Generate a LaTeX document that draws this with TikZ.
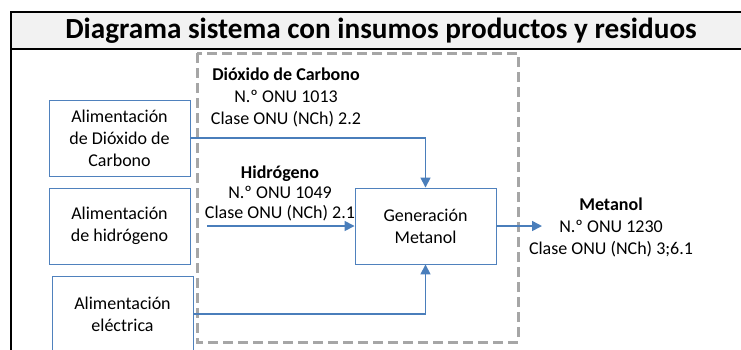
\documentclass[tikz,border=0pt]{standalone}
\usepackage{fontspec}
\setmainfont{Carlito}
\usetikzlibrary{arrows.meta,positioning}
\definecolor{boxblue}{RGB}{79,129,189}
\definecolor{flowblue}{RGB}{74,126,187}
\definecolor{dashgray}{RGB}{166,166,166}
\definecolor{titlegray}{RGB}{242,242,242}

\begin{document}
\begin{tikzpicture}[x=1pt,y=-1pt,>={Triangle[length=10pt,width=10pt]},
    feed/.style={draw=boxblue,line width=0.9pt,minimum width=141pt,minimum height=76pt,
      inner sep=0pt,align=center,font=\fontsize{18}{22}\selectfont},
    flow/.style={->,draw=flowblue,line width=1.6pt},
    lbl/.style={align=center,inner sep=0pt,font=\fontsize{18}{22}\selectfont}]
    \useasboundingbox (0,0) rectangle (741,349);
    \clip (0,0) rectangle (741,349);
    % title bar
    \draw[line width=1.5pt,fill=titlegray] (11,12) rectangle (760,49);
    \draw[line width=1.5pt] (11,49) -- (11,360);
    \node[font=\fontsize{29.2}{30}\selectfont\bfseries] (title) at (381,30.5)
      {Diagrama sistema con insumos productos y residuos};
    % system boundary
    \draw[dashgray,line width=3pt,dash pattern=on 10pt off 5pt] (197,53) rectangle (518,342);
    % inputs
    \node[feed] (co2) at (119.5,138) {Alimentación\\de Dióxido de\\Carbono};
    \node[feed] (h2) at (119.5,226) {Alimentación\\de hidrógeno};
    \node[feed] (elec) at (122.5,314) {Alimentación\\eléctrica};
    % process
    \node[feed] (gen) at (425.5,226) {Generación\\Metanol};
    % flows
    \coordinate[right=17pt of h2.east] (h2in);
    \coordinate (out) at (542,226);
    \draw[flow] (co2.east) -| (gen.north);
    \draw[flow] (h2in) -- (gen.west);
    \draw[flow] (elec.east) -| (gen.south);
    \draw[flow] (gen.east) -- (out);
    % labels
    \node[lbl] (co2lbl) at (286,97.5) {\textbf{Dióxido de Carbono}\\N.º ONU 1013\\Clase ONU (NCh) 2.2};
    \node[lbl,font=\fontsize{18}{20}\selectfont] (h2lbl) at (280,193) {\textbf{Hidrógeno}\\N.º ONU 1049\\Clase ONU (NCh) 2.1};
    \node[lbl] (metlbl) at (611,227) {\textbf{Metanol}\\N.º ONU 1230\\Clase ONU (NCh) 3;6.1};
  \end{tikzpicture}
\end{document}
